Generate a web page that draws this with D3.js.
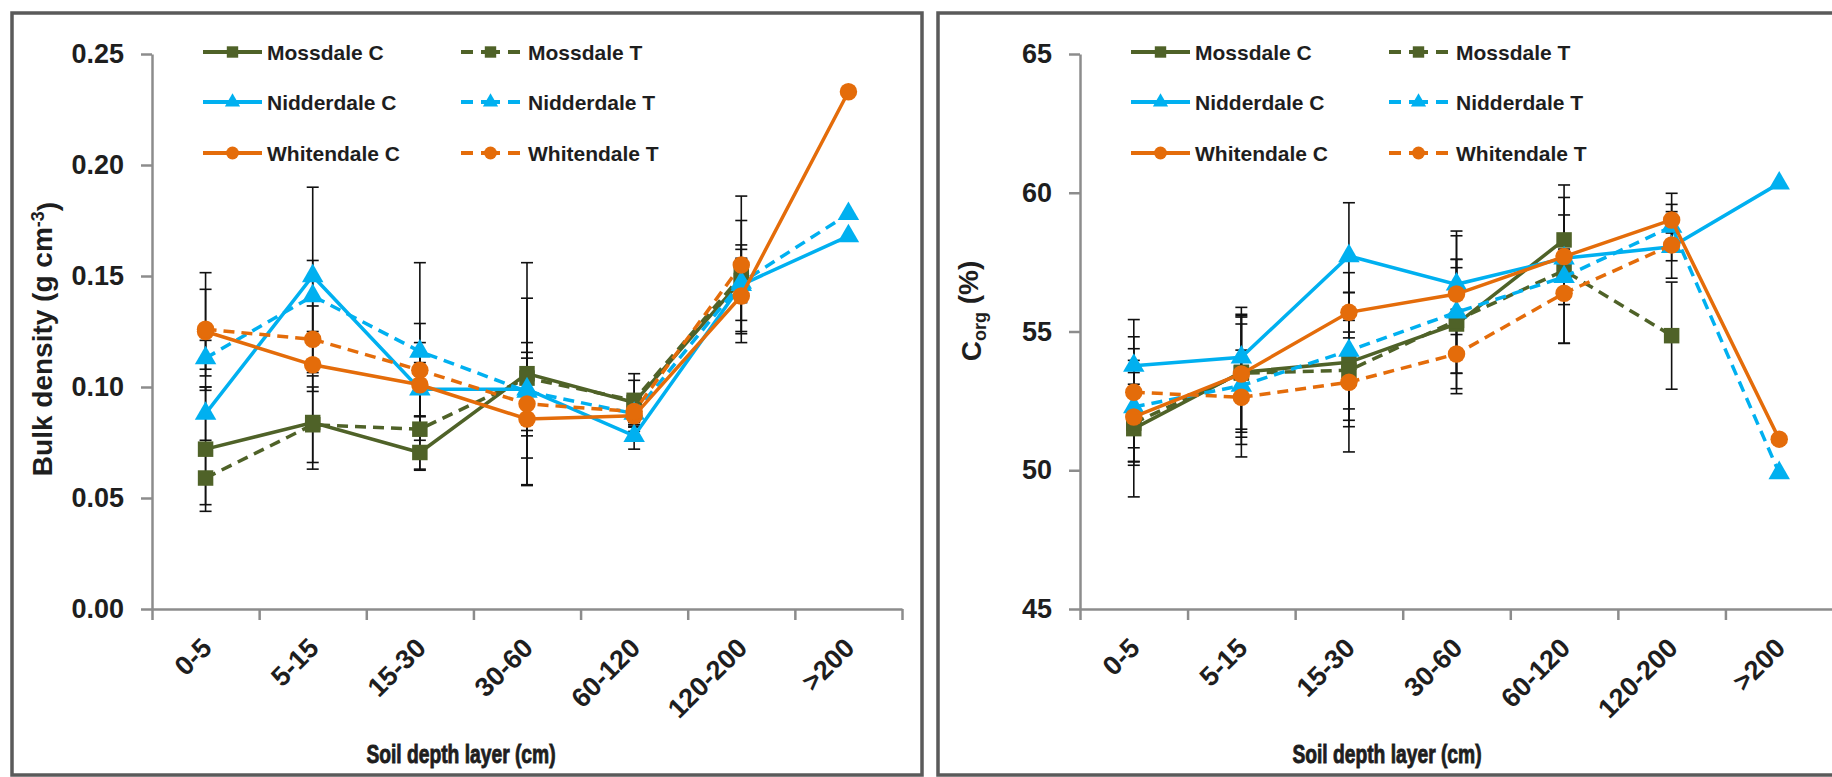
<!DOCTYPE html>
<html lang="en">
<head>
<meta charset="UTF-8">
<title>Bulk density and Corg by soil depth layer</title>
<script src="https://d3js.org/d3.v7.min.js"></script>
<style>
  body { margin: 0; background: #fff; }
  svg text { font-family: "Liberation Sans", Arial, sans-serif; font-weight: bold; fill: #1e1e1e; }
  .axis path, .axis line { stroke: #8c8c8c; stroke-width: 2.5; }
  .axis text { font-size: 27px; }
  .err { stroke: #111; stroke-width: 1.6; fill: none; }
  .xtitle { stroke: #1e1e1e; stroke-width: 0.9; }
</style>
</head>
<body>
<svg width="1832" height="777"></svg>
<script>
const categories = ["0-5", "5-15", "15-30", "30-60", "60-120", "120-200", ">200"];
const seriesNames = ["Mossdale C", "Mossdale T", "Nidderdale C", "Nidderdale T", "Whitendale C", "Whitendale T"];

// bulk density (g cm-3)
const bdMossdaleC   = [0.072, 0.084, 0.0705, 0.106, 0.093, 0.148, null];
const bdMossdaleT   = [0.059, 0.083, 0.081, 0.104, 0.094, 0.150, null];
const bdNidderdaleC = [0.088, 0.150, 0.099, 0.099, 0.078, 0.146, 0.168];
const bdNidderdaleT = [0.113, 0.141, 0.116, 0.098, 0.088, 0.147, 0.178];
const bdWhitendaleC = [0.125, 0.110, 0.101, 0.0856, 0.087, 0.141, 0.233];
const bdWhitendaleT = [0.126, 0.1215, 0.1076, 0.0924, 0.089, 0.155, null];
// error bars (+/-)
const bdErrMossdaleC   = [0.028, 0.021, 0.008, 0.050, 0.010, 0.010, null];
const bdErrMossdaleT   = [0.012, 0.017, 0.018, 0.036, 0.012, 0.025, null];
const bdErrNidderdaleC = [0.012, 0.040, 0.012, 0.021, 0.006, 0.005, null];
const bdErrNidderdaleT = [0.008, 0.016, 0.040, 0.015, 0.008, 0.017, null];
const bdErrWhitendaleC = [0.0265, 0.012, 0.019, 0.030, 0.005, 0.021, null];
const bdErrWhitendaleT = [0.018, 0.015, 0.021, 0.012, 0.006, 0.031, null];

// organic carbon (%)
const cMossdaleC   = [51.5, 53.53, 53.89, 55.27, 58.3, null, null];
const cMossdaleT   = [51.7, 53.5, 53.6, 55.4, 57.2, 54.85, null];
const cNidderdaleC = [53.77, 54.07, 57.72, 56.7, 57.64, 58.05, 60.34];
const cNidderdaleT = [52.28, 53.05, 54.31, 55.69, 56.97, 58.78, 49.9];
const cWhitendaleC = [51.92, 53.47, 55.69, 56.35, 57.7, 59.02, 51.12];
const cWhitendaleT = [52.81, 52.63, 53.17, 54.19, 56.38, 58.12, null];
const cErrMossdaleC   = [2.46, 2.34, 3.23, 2.33, 1.98, null, null];
const cErrMossdaleT   = [1.4, 2.02, 1.8, 1.9, 2.63, 1.93, null];
const cErrNidderdaleC = [1.66, 1.2, 1.92, 0.9, 0.8, 0.5, null];
const cErrNidderdaleT = [2.1, 2.57, 2.1, 2.93, 1.0, 0.8, null];
const cErrWhitendaleC = [1.6, 2.1, 0.71, 2.1, 1.5, 0.96, null];
const cErrWhitendaleT = [2.0, 1.7, 1.6, 0.7, 1.8, 1.2, null];

const bdTicks = [0, 0.05, 0.10, 0.15, 0.20, 0.25];
const cTicks = [45, 50, 55, 60, 65];

const colors = ["#4f6228", "#4f6228", "#00b0f0", "#00b0f0", "#e46c0a", "#e46c0a"];
const symbols = [d3.symbolSquare, d3.symbolSquare, d3.symbolTriangle, d3.symbolTriangle, d3.symbolCircle, d3.symbolCircle];
const dashed = [false, true, false, true, false, true];

const svg = d3.select("svg");

// panel frames
svg.append("rect").attr("x", 12).attr("y", 13).attr("width", 910).attr("height", 762)
    .attr("fill", "#fff").attr("stroke", "#5a5a5a").attr("stroke-width", 3.5);
svg.append("rect").attr("x", 938).attr("y", 13).attr("width", 910).attr("height", 762)
    .attr("fill", "#fff").attr("stroke", "#5a5a5a").attr("stroke-width", 3.5);

const plotTop = 54, plotBottom = 609;

function drawPanel(opt) {
    const g = svg.append("g");
    const x = d3.scaleBand().domain(categories).range([opt.x0, opt.x1]);
    const cx = c => x(c) + x.bandwidth() / 2;
    const y = d3.scaleLinear().domain(opt.domain).range([plotBottom, plotTop]);

    // y axis
    g.append("g").attr("class", "axis")
        .attr("transform", `translate(${opt.x0},0)`)
        .call(d3.axisLeft(y).tickValues(opt.ticks).tickFormat(opt.fmt)
            .tickSize(11).tickSizeOuter(0).tickPadding(17))
        .call(a => a.selectAll("text").attr("fill", "#1e1e1e"));

    // x axis: tick marks at category boundaries
    const xb = d3.scaleLinear().domain([0, categories.length]).range([opt.x0, opt.x1]);
    g.append("g").attr("class", "axis")
        .attr("transform", `translate(0,${plotBottom})`)
        .call(d3.axisBottom(xb).ticks(categories.length).tickFormat("").tickSize(11).tickSizeOuter(0));

    g.append("g").selectAll("text").data(categories).join("text")
        .attr("transform", c => `translate(${cx(c) + 1},${plotBottom + 34}) rotate(-45)`)
        .attr("text-anchor", "end").attr("dy", "0.35em")
        .style("font-size", "27px")
        .text(c => c);

    // error bars
    opt.series.forEach((vals, s) => {
        const errs = opt.errors[s];
        vals.forEach((v, i) => {
            if (v == null || errs[i] == null) return;
            const px = cx(categories[i]);
            const y1 = y(v + errs[i]), y2 = y(v - errs[i]);
            g.append("line").attr("class", "err").attr("x1", px).attr("x2", px).attr("y1", y1).attr("y2", y2);
            g.append("line").attr("class", "err").attr("x1", px - 6).attr("x2", px + 6).attr("y1", y1).attr("y2", y1);
            g.append("line").attr("class", "err").attr("x1", px - 6).attr("x2", px + 6).attr("y1", y2).attr("y2", y2);
        });
    });

    // series lines and markers
    const line = d3.line().defined(d => d != null)
        .x((d, i) => cx(categories[i])).y(d => y(d));
    opt.series.forEach((vals, s) => {
        g.append("path").attr("d", line(vals))
            .attr("fill", "none").attr("stroke", colors[s]).attr("stroke-width", 3.5)
            .attr("stroke-dasharray", dashed[s] ? "11,7" : null);
        const sym = d3.symbol().type(symbols[s]).size(symbols[s] === d3.symbolTriangle ? 200 : 240);
        g.append("g").selectAll("path").data(vals.map((v, i) => [v, i]).filter(d => d[0] != null)).join("path")
            .attr("d", sym)
            .attr("transform", d => `translate(${cx(categories[d[1]])},${y(d[0])})`)
            .attr("fill", colors[s]);
    });

    // legend
    const rows = [52, 102, 153];
    seriesNames.forEach((name, s) => {
        const col = s % 2, row = Math.floor(s / 2);
        const ly = rows[row];
        const lx = opt.x0 + (col === 0 ? 51 : 309);
        const len = 59;
        const lg = g.append("g");
        lg.append("line").attr("x1", lx).attr("x2", lx + len).attr("y1", ly).attr("y2", ly)
            .attr("stroke", colors[s]).attr("stroke-width", 4)
            .attr("stroke-dasharray", dashed[s] ? "12,8,19,8,12" : null);
        lg.append("path")
            .attr("d", d3.symbol().type(symbols[s]).size(symbols[s] === d3.symbolTriangle ? 100 : 130))
            .attr("transform", `translate(${lx + len / 2},${ly})`)
            .attr("fill", colors[s]);
        lg.append("text").attr("x", lx + len + (col === 0 ? 5 : 8)).attr("y", ly).attr("dy", "0.36em")
            .style("font-size", "21px").text(name);
    });

    // axis titles
    g.append("text").attr("class", "xtitle")
        .attr("transform", `translate(${opt.frameX + 449},763) scale(0.74,1)`)
        .attr("text-anchor", "middle").style("font-size", "26px").text("Soil depth layer (cm)");
    opt.yTitle(g.append("text")
        .attr("transform", `translate(${opt.yTitleX},${opt.yTitleY}) rotate(-90)`)
        .attr("text-anchor", "middle").style("font-size", "28px"));
}

drawPanel({
    frameX: 12, x0: 152, x1: 902,
    domain: [0, 0.25], ticks: bdTicks, fmt: d3.format(".2f"),
    series: [bdMossdaleC, bdMossdaleT, bdNidderdaleC, bdNidderdaleT, bdWhitendaleC, bdWhitendaleT],
    errors: [bdErrMossdaleC, bdErrMossdaleT, bdErrNidderdaleC, bdErrNidderdaleT, bdErrWhitendaleC, bdErrWhitendaleT],
    yTitleX: 52, yTitleY: 339,
    yTitle: t => {
        t.append("tspan").text("Bulk density (g cm");
        t.append("tspan").attr("dy", "-0.45em").style("font-size", "18px").text("-3");
        t.append("tspan").attr("dy", "0.45em").text(")");
    }
});

drawPanel({
    frameX: 938, x0: 1080, x1: 1833,
    domain: [45, 65], ticks: cTicks, fmt: d3.format("d"),
    series: [cMossdaleC, cMossdaleT, cNidderdaleC, cNidderdaleT, cWhitendaleC, cWhitendaleT],
    errors: [cErrMossdaleC, cErrMossdaleT, cErrNidderdaleC, cErrNidderdaleT, cErrWhitendaleC, cErrWhitendaleT],
    yTitleX: 981, yTitleY: 311,
    yTitle: t => {
        t.append("tspan").text("C");
        t.append("tspan").attr("dy", "0.3em").style("font-size", "18px").text("org");
        t.append("tspan").attr("dy", "-0.3em").text(" (%)");
    }
});
</script>
</body>
</html>
